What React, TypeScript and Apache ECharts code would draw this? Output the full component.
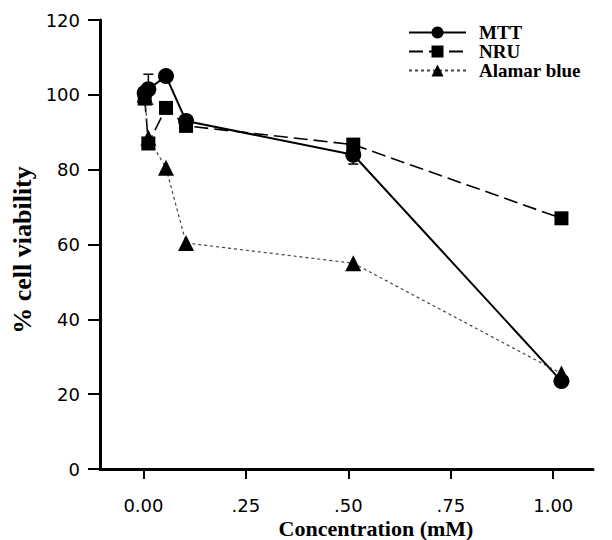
import React, { useEffect, useRef } from "react";
import * as echarts from "echarts";

// Concentrations (mM)
const CONC = [0.003, 0.012, 0.055, 0.104, 0.512, 1.02];
const MTT = [100.5, 101.5, 105, 93, 84, 23.5];
const MTT_ERR = [1, 4, 0.5, 0.5, 2.5, 1];
const NRU = [99, 87, 96.5, 91.7, 86.7, 67];
const ALAMAR = [100, 88.5, 80.5, 60.4, 55, 25.5];
const X_TICKS = [0, 0.25, 0.5, 0.75, 1.0];
const X_TICK_LABELS = ["0.00", ".25", ".50", ".75", "1.00"];
const SERIES_NAMES = ["MTT", "NRU", "Alamar blue"];

const SERIF = "'Liberation Serif', 'Times New Roman', serif";
const SANS = "'DejaVu Sans', 'Liberation Sans', Arial, sans-serif";

export default function App() {
  const ref = useRef<HTMLDivElement>(null);
  useEffect(() => {
    document.body.style.margin = "0";
    const chart = echarts.init(ref.current!, null, { renderer: "svg" });
    const pts = (ys: number[]) => CONC.map((x, i) => [x, ys[i]]);
    const errData = CONC.map((x, i) => [x, MTT[i] - MTT_ERR[i], MTT[i] + MTT_ERR[i]]);
    chart.setOption({
      animation: false,
      backgroundColor: "#fff",
      grid: { left: 100, right: 19, top: 20, bottom: 71, containLabel: false },
      legend: {
        orient: "vertical",
        left: 408,
        top: 23,
        padding: 0,
        itemWidth: 57,
        itemHeight: 15,
        itemGap: 0,
        data: SERIES_NAMES,
        textStyle: {
          fontFamily: SERIF,
          fontSize: 19,
          fontWeight: "bold",
          color: "#000",
          lineHeight: 19,
          padding: [0, 0, 0, 8],
        },
      },
      xAxis: {
        type: "value",
        min: -0.106,
        max: 1.097,
        splitLine: { show: false },
        axisLine: { onZero: false, lineStyle: { color: "#000", width: 3 } },
        axisTick: { show: true, customValues: X_TICKS, length: 10, inside: false, lineStyle: { color: "#000", width: 2 } },
        axisLabel: {
          customValues: X_TICKS,
          margin: 27,
          fontFamily: SANS,
          fontSize: 18,
          color: "#000",
          formatter: (v: number) => {
            const i = X_TICKS.findIndex((t) => Math.abs(t - v) < 1e-6);
            return i >= 0 ? X_TICK_LABELS[i] : "";
          },
        },
      },
      yAxis: {
        type: "value",
        min: 0,
        max: 120,
        interval: 20,
        splitLine: { show: false },
        axisLine: { show: true, onZero: false, lineStyle: { color: "#000", width: 3 } },
        axisTick: { show: true, length: 12, lineStyle: { color: "#000", width: 2 } },
        axisLabel: { margin: 20, fontFamily: SANS, fontSize: 18, color: "#000" },
      },
      graphic: [
        {
          type: "text",
          x: 376,
          y: 528,
          style: {
            text: "Concentration (mM)",
            font: `bold 22px ${SERIF}`,
            fill: "#000",
            textAlign: "center",
            textVerticalAlign: "middle",
          },
        },
        {
          type: "text",
          x: 22,
          y: 250,
          rotation: Math.PI / 2,
          style: {
            text: "% cell viability",
            font: `bold 26px ${SERIF}`,
            fill: "#000",
            textAlign: "center",
            textVerticalAlign: "middle",
          },
        },
      ],
      series: [
        {
          type: "custom",
          name: "MTT error",
          data: errData,
          z: 1,
          renderItem: (params: any, api: any) => {
            const x = api.value(0);
            const lo = api.coord([x, api.value(1)]);
            const hi = api.coord([x, api.value(2)]);
            const w = 5;
            const st = { stroke: "#000", lineWidth: 1.5 };
            return {
              type: "group",
              children: [
                { type: "line", shape: { x1: lo[0], y1: lo[1], x2: hi[0], y2: hi[1] }, style: st },
                { type: "line", shape: { x1: hi[0] - w, y1: hi[1], x2: hi[0] + w, y2: hi[1] }, style: st },
                { type: "line", shape: { x1: lo[0] - w, y1: lo[1], x2: lo[0] + w, y2: lo[1] }, style: st },
              ],
            };
          },
        },
        {
          name: SERIES_NAMES[0],
          type: "line",
          data: pts(MTT),
          symbol: "circle",
          symbolSize: 16,
          z: 3,
          itemStyle: { color: "#000" },
          lineStyle: { color: "#000", width: 2, type: "solid" },
        },
        {
          name: SERIES_NAMES[1],
          type: "line",
          data: pts(NRU),
          symbol: "rect",
          symbolSize: 14,
          z: 3,
          itemStyle: { color: "#000" },
          lineStyle: { color: "#000", width: 1.6, type: [14, 6] },
        },
        {
          name: SERIES_NAMES[2],
          type: "line",
          data: pts(ALAMAR),
          symbol: "triangle",
          symbolSize: 16,
          z: 3,
          itemStyle: { color: "#000" },
          lineStyle: { color: "#444", width: 1.2, type: [3, 3] },
        },
      ],
    });
    return () => chart.dispose();
  }, []);
  return <div ref={ref} style={{ width: 612, height: 540 }} />;
}
